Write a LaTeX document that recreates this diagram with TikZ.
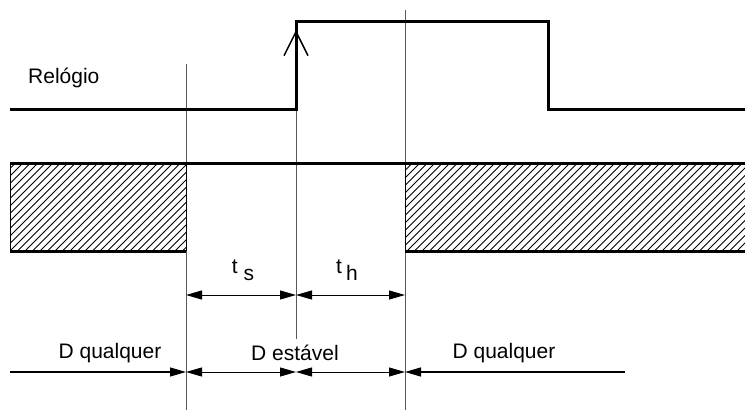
\documentclass[tikz,border=0pt]{standalone}
\usepackage{fontspec}
\setmainfont{Liberation Sans}
\usetikzlibrary{arrows.meta,positioning}

\begin{document}
\begin{tikzpicture}[x=1pt, y=-1pt,
    >={Triangle[length=16pt, width=9pt]},
    sig/.style={line width=3pt},
    guide/.style={line width=0.9pt, black!65},
    hatch/.style={line width=0.9pt},
    dim/.style={line width=1pt, <->},
    lbl/.style={font=\fontsize{21}{25}\selectfont, inner sep=0pt}
  ]
  \useasboundingbox (0,0) rectangle (745,410);
  \def\ylo{109}
  \def\yhi{21}
  \def\dtop{163}
  \def\dbot{251}

  \coordinate (guideA) at (186,64);
  \coordinate (guideAend) at (186,410);
  \coordinate (guideB) at (296,\ylo);
  \coordinate (guideBend) at (296,339);
  \coordinate (guideC) at (405,10);
  \coordinate (guideCend) at (405,410);

  \draw[guide] (guideA) -- (guideAend);
  \draw[guide] (guideB) -- (guideBend);
  \draw[guide] (guideC) -- (guideCend);

  % relogio
  \draw[sig] (10,\ylo) -- (296,\ylo) -- (296,\yhi) -- (548,\yhi) -- (548,\ylo) -- (745,\ylo);
  \draw[line width=1.5pt, -{Straight Barb[length=24pt, width=24pt]}] (296,60) -- (296,30);
  \node[lbl, anchor=west] (clk) at (28,78) {Relógio};

  % dado
  \begin{scope}
    \clip (10,\dtop) rectangle (186,\dbot);
    \foreach \x in {-80,-72.5,...,190} \draw[hatch] (\x,\dbot) -- (\x+88,\dtop);
  \end{scope}
  \begin{scope}
    \clip (405,\dtop) rectangle (745,\dbot);
    \foreach \x in {317,324.5,...,750} \draw[hatch] (\x,\dbot) -- (\x+88,\dtop);
  \end{scope}
  \draw[line width=1pt] (10,\dtop) -- (10,\dbot);
  \draw[line width=1pt] (186,\dtop) -- (186,\dbot);
  \draw[line width=1pt] (405,\dtop) -- (405,\dbot);
  \draw[sig] (10,\dtop) -- (745,\dtop);
  \draw[sig] (10,\dbot) -- (186,\dbot);
  \draw[sig] (405,\dbot) -- (745,\dbot);

  % tempos
  \coordinate (ts0) at (186,295);
  \coordinate (ts1) at (296,295);
  \coordinate (th1) at (405,295);
  \draw[dim] (ts0) -- (ts1);
  \draw[dim] (ts1) -- (th1);
  \node[lbl] (tsl) at (243,270) {t\kern6pt\raisebox{-7pt}{s}};
  \node[lbl] (thl) at (347,270) {t\kern4pt\raisebox{-7pt}{h}};

  % intervalos de D
  \coordinate (d0) at (10,372);
  \coordinate (d1) at (186,372);
  \coordinate (d2) at (296,372);
  \coordinate (d3) at (405,372);
  \coordinate (d4) at (625,372);
  \draw[line width=1.3pt, ->] (d0) -- (d1);
  \draw[dim] (d1) -- (d2);
  \draw[dim] (d2) -- (d3);
  \draw[line width=1.3pt, <-] (d3) -- (d4);
  \node[lbl] (dq1) at (110,353) {D qualquer};
  \node[lbl] (dst) at (295,353) {D estável};
  \node[lbl] (dq2) at (504,353) {D qualquer};
\end{tikzpicture}
\end{document}
